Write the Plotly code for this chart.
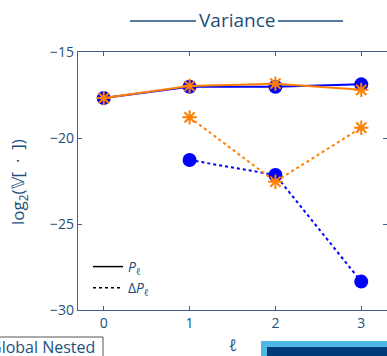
import plotly.graph_objects as go

levels = [0, 1, 2, 3]
levels_d = [1, 2, 3]
P_blue = [-17.68, -17.02, -17.02, -16.88]
P_orange = [-17.68, -16.98, -16.84, -17.2]
dP_blue = [-21.28, -22.15, -28.35]
dP_orange = [-18.8, -22.54, -19.4]

DB = "#1d4f7c"
AX = "#3e6390"
BLUE = "#0000ff"
ORANGE = "#ff8000"
FONT = "Open Sans"

W, H = 387, 356
L, R, T, B = 78, 0, 52, 46
pw, ph = W - L - R, H - T - B


def px(X):
    return (X - L) / pw


def py(Y):
    return (H - B - Y) / ph


fig = go.Figure()
fig.add_trace(go.Scatter(x=levels, y=P_blue, mode="lines+markers",
                         line=dict(color=BLUE, width=2),
                         marker=dict(symbol="circle", size=14, color=BLUE),
                         showlegend=False))
fig.add_trace(go.Scatter(x=levels_d, y=dP_blue, mode="lines+markers",
                         line=dict(color=BLUE, width=2, dash="dot"),
                         marker=dict(symbol="circle", size=14, color=BLUE),
                         showlegend=False))
fig.add_trace(go.Scatter(x=levels, y=P_orange, mode="lines+markers",
                         line=dict(color=ORANGE, width=2),
                         marker=dict(symbol="asterisk-open", size=12, color=ORANGE,
                                     line=dict(color=ORANGE, width=2)),
                         showlegend=False))
fig.add_trace(go.Scatter(x=levels_d, y=dP_orange, mode="lines+markers",
                         line=dict(color=ORANGE, width=2, dash="dot"),
                         marker=dict(symbol="asterisk-open", size=12, color=ORANGE,
                                     line=dict(color=ORANGE, width=2)),
                         showlegend=False))
fig.add_trace(go.Scatter(x=[None], y=[None], mode="lines",
                         line=dict(color="black", width=1.5),
                         name="<i>P<sub>ℓ</sub></i>"))
fig.add_trace(go.Scatter(x=[None], y=[None], mode="lines",
                         line=dict(color="black", width=1.5, dash="dot"),
                         name="Δ<i>P<sub>ℓ</sub></i>"))

axis_common = dict(showgrid=False, zeroline=False, showline=True, linecolor=AX,
                   linewidth=1.2, mirror="ticks", ticks="inside", ticklen=4,
                   tickcolor=AX, tickfont=dict(color=DB, size=14, family=FONT))

fig.update_xaxes(range=[-0.3, 3.3], tickvals=levels, **axis_common)
fig.update_yaxes(range=[-30, -15], tickvals=[-30, -25, -20, -15], **axis_common)

# title with rules on both sides
fig.add_annotation(text="Variance", xref="paper", yref="paper",
                   x=px(237), y=py(20), xanchor="center", yanchor="middle",
                   showarrow=False, font=dict(color=DB, size=19, family=FONT))
fig.add_shape(type="line", xref="paper", yref="paper",
              x0=px(130), x1=px(196), y0=py(21), y1=py(21),
              line=dict(color=DB, width=1.6))
fig.add_shape(type="line", xref="paper", yref="paper",
              x0=px(278), x1=px(343), y0=py(21), y1=py(21),
              line=dict(color=DB, width=1.6))

fig.add_annotation(text="log<sub>2</sub>(𝕍[ &nbsp;·&nbsp; ])", xref="paper", yref="paper",
                   x=px(18), y=py(182), xanchor="center", yanchor="middle",
                   showarrow=False, textangle=-90,
                   font=dict(color=DB, size=17, family=FONT))
fig.add_annotation(text="<i>ℓ</i>", xref="paper", yref="paper",
                   x=px(233), y=py(345), xanchor="center", yanchor="middle",
                   showarrow=False, font=dict(color=DB, size=16, family=FONT))

fig.add_shape(type="rect", xref="paper", yref="paper",
              x0=px(-5), x1=px(103), y0=py(362), y1=py(337),
              line=dict(color="#555555", width=1), fillcolor="white")
fig.add_annotation(text="Global Nested", xref="paper", yref="paper",
                   x=px(97), y=py(347), xanchor="right", yanchor="middle",
                   showarrow=False, font=dict(color=DB, size=16, family=FONT))
fig.add_shape(type="rect", xref="paper", yref="paper",
              x0=px(261), x1=px(395), y0=py(362), y1=py(341),
              line=dict(width=0), fillcolor="#4db7e6")
fig.add_shape(type="rect", xref="paper", yref="paper",
              x0=px(267), x1=px(395), y0=py(362), y1=py(347),
              line=dict(width=0), fillcolor="#003a78")

fig.update_layout(width=W, height=H, margin=dict(l=L, r=R, t=T, b=B),
                  paper_bgcolor="white", plot_bgcolor="white",
                  font=dict(family=FONT, color=DB),
                  legend=dict(x=px(88), y=py(251), xanchor="left", yanchor="top",
                              bgcolor="rgba(0,0,0,0)", font=dict(size=14, color=DB),
                              tracegroupgap=0, itemwidth=30))

fig.write_html("out.html")
